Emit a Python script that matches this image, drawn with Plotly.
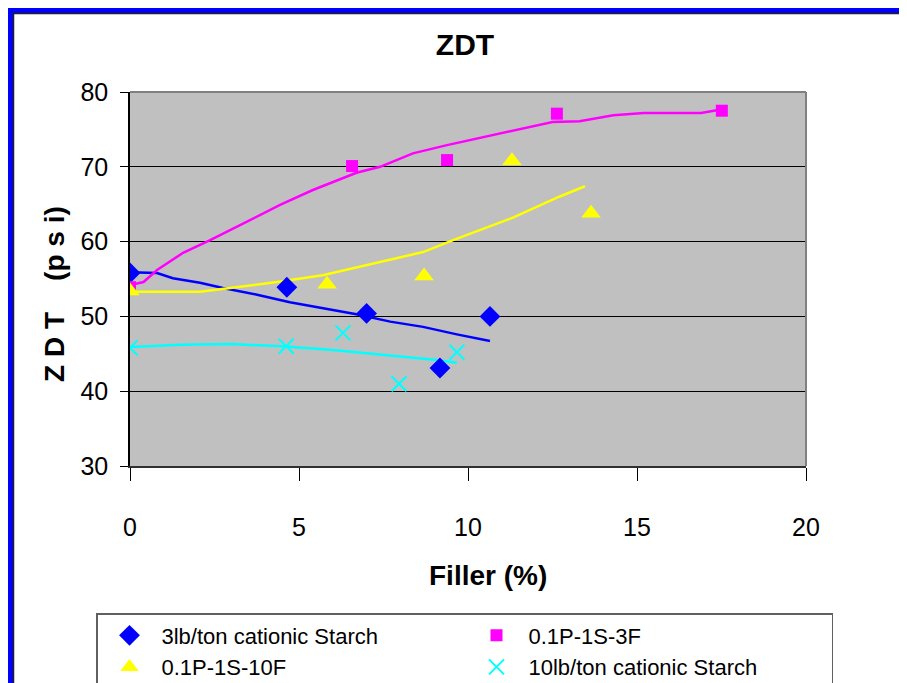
import plotly.graph_objects as go

# ---- data ----
s1_name = "3lb/ton cationic Starch"
s1_x = [0.0, 4.64, 7.0, 9.17, 10.65]
s1_y = [55.8, 53.9, 50.4, 43.1, 50.0]
s1_tx = [0.0, 0.8, 1.27, 2.07, 2.75, 3.76, 4.73, 5.7, 6.7, 7.7, 8.67, 9.67, 10.65]
s1_ty = [55.9, 55.8, 55.1, 54.5, 53.8, 52.9, 51.9, 51.1, 50.3, 49.3, 48.6, 47.6, 46.7]

s2_name = "0.1P-1S-3F"
s2_x = [0.0, 6.57, 9.38, 12.63, 17.51]
s2_y = [53.9, 70.1, 70.9, 77.1, 77.5]
s2_tx = [0.0, 0.4, 0.8, 1.57, 2.37, 3.4, 4.44, 5.41, 6.7, 7.4, 8.37, 9.38, 10.36,
         11.33, 12.5, 13.3, 14.3, 15.2, 16.9, 17.4]
s2_ty = [54.2, 54.6, 56.2, 58.5, 60.2, 62.5, 64.9, 66.9, 69.2, 70.0, 71.8, 72.9, 73.9,
         74.9, 76.0, 76.1, 76.9, 77.2, 77.2, 77.6]

s3_name = "0.1P-1S-10F"
s3_x = [0.0, 5.83, 8.7, 11.3, 13.64]
s3_y = [53.4, 54.3, 55.4, 70.8, 63.8]
s3_tx = [0.0, 2.07, 2.96, 4.35, 5.7, 7.2, 8.67, 9.56, 11.33, 12.7, 13.46]
s3_ty = [53.3, 53.3, 53.8, 54.6, 55.5, 57.1, 58.6, 60.2, 63.2, 66.0, 67.4]

s4_name = "10lb/ton cationic Starch"
s4_x = [0.0, 4.62, 6.3, 7.96, 9.67]
s4_y = [45.8, 46.0, 47.8, 41.0, 45.2]
s4_tx = [0.0, 1.5, 3.0, 4.5, 6.0, 7.5, 9.0, 9.67]
s4_ty = [45.9, 46.2, 46.3, 46.0, 45.5, 44.9, 44.2, 43.8]

x_ticks = [0, 5, 10, 15, 20]
y_ticks = [30, 40, 50, 60, 70, 80]

FONT = "Liberation Sans, Arial, sans-serif"

# page has an 8px body margin: build the figure 8px smaller and shifted
OFF = 8
W, H = 907 - OFF, 683 - OFF
L, T = 130 - OFF, 92 - OFF
R = W - (806 - OFF)
B = H - (466 - OFF)
PW, PH = W - L - R, H - T - B


def px2x(px):  # reference-page pixel -> paper x
    return (px - OFF - L) / PW


def px2y(py):  # reference-page pixel -> paper y
    return (H - B - (py - OFF)) / PH


fig = go.Figure()

series = [
    (s1_name, s1_x, s1_y, s1_tx, s1_ty, "#0000FF", "diamond", 16),
    (s2_name, s2_x, s2_y, s2_tx, s2_ty, "#FF00FF", "square", 12),
    (s3_name, s3_x, s3_y, s3_tx, s3_ty, "#FFFF00", "triangle-up", 17),
    (s4_name, s4_x, s4_y, s4_tx, s4_ty, "#00FFFF", "x-thin", 15),
]

for name, xs, ys, tx, ty, col, sym, sz in series:
    fig.add_trace(go.Scatter(x=tx, y=ty, mode="lines", line=dict(color=col, width=2.5),
                             showlegend=False, hoverinfo="skip"))

for name, xs, ys, tx, ty, col, sym, sz in series:
    mk = dict(symbol=sym, size=sz, color=col)
    if sym == "x-thin":
        mk["line"] = dict(color=col, width=2)
    else:
        mk["line"] = dict(width=0)
    fig.add_trace(go.Scatter(x=xs, y=ys, mode="markers", name=name, marker=mk))

shapes = [
    # blue frame (top and left)
    dict(type="rect", xref="paper", yref="paper", x0=px2x(OFF), x1=px2x(907), y0=px2y(OFF), y1=px2y(OFF + 5),
         fillcolor="#0000FF", line=dict(width=0), layer="above"),
    dict(type="rect", xref="paper", yref="paper", x0=px2x(OFF), x1=px2x(OFF + 5), y0=px2y(OFF), y1=px2y(683),
         fillcolor="#0000FF", line=dict(width=0), layer="above"),
    dict(type="line", xref="paper", yref="paper", x0=px2x(OFF + 5), x1=px2x(907), y0=px2y(OFF + 5.5), y1=px2y(OFF + 5.5),
         line=dict(color="#202020", width=1.5), layer="above"),
    dict(type="line", xref="paper", yref="paper", x0=px2x(OFF + 5.5), x1=px2x(OFF + 5.5), y0=px2y(OFF + 5), y1=px2y(683),
         line=dict(color="#202020", width=1.5), layer="above"),
    # plot area top / right border
    dict(type="line", xref="paper", yref="paper", x0=0, x1=1, y0=1, y1=1,
         line=dict(color="#808080", width=2), layer="above"),
    dict(type="line", xref="paper", yref="paper", x0=1, x1=1, y0=0, y1=1,
         line=dict(color="#808080", width=2), layer="above"),
]

ITEMW = 54
TEXTGAP = 10 + ITEMW

fig.update_layout(
    width=W, height=H,
    margin=dict(l=L, r=R, t=T, b=B, autoexpand=False),
    paper_bgcolor="white",
    plot_bgcolor="#C0C0C0",
    font=dict(family=FONT, color="black"),
    title=dict(text="<b>ZDT</b>", x=px2x(465), xref="paper", xanchor="center",
               y=1 - (44 - OFF) / H, yanchor="middle", font=dict(size=30, family=FONT)),
    xaxis=dict(range=[0, 20], tickvals=x_ticks, showgrid=False, zeroline=False,
               showline=True, linecolor="#303030", linewidth=1.5,
               ticks="outside", ticklen=13, tickcolor="black", tickwidth=1,
               ticklabelstandoff=25, tickfont=dict(size=25, family=FONT)),
    yaxis=dict(range=[30, 80], tickvals=y_ticks, showgrid=True, gridcolor="black", gridwidth=1,
               zeroline=False, showline=True, linecolor="black", linewidth=1.5,
               ticks="outside", ticklen=8, tickcolor="black", tickwidth=1,
               ticklabelstandoff=7, tickfont=dict(size=25, family=FONT)),
    legend=dict(orientation="h", x=px2x(96), xanchor="left", y=px2y(613), yanchor="top",
                bgcolor="white", bordercolor="#606060", borderwidth=1.5,
                font=dict(size=22, family=FONT), entrywidth=367 - TEXTGAP - 5, entrywidthmode="pixels",
                itemwidth=ITEMW, traceorder="normal"),
    shapes=shapes,
    annotations=[
        dict(text="<b>Z\u00a0D\u00a0T\u00a0\u00a0\u00a0\u00a0(p\u00a0s\u00a0i)</b>", xref="paper", yref="paper",
             x=px2x(54), y=px2y(294), xanchor="center", yanchor="middle", textangle=-90,
             showarrow=False, font=dict(size=28, family=FONT)),
        dict(text="<b>Filler (%)</b>", xref="paper", yref="paper",
             x=px2x(488), y=px2y(575), xanchor="center", yanchor="middle",
             showarrow=False, font=dict(size=28, family=FONT)),
    ],
    showlegend=True,
)

fig.write_html("out.html")
